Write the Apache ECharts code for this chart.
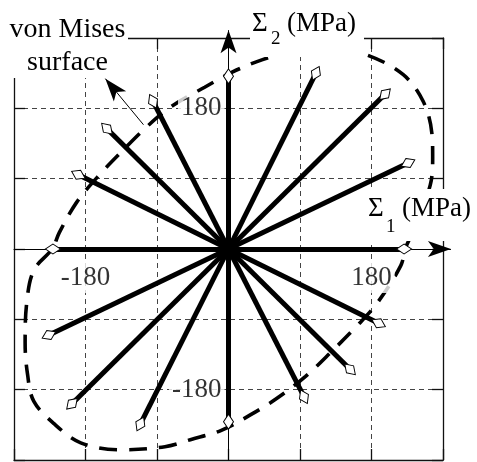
<!DOCTYPE html>
<html><head><meta charset="utf-8">
<script src="https://cdn.jsdelivr.net/npm/echarts@6/dist/echarts.min.js"></script>
<style>html,body{margin:0;padding:0;background:#fff}#c{width:477px;height:462px}</style>
</head><body><div id="c"></div>
<script>
// Loading points (MPa): sigma1 / sigma2 of the 16 radial load paths
const pointX = [221, 226, 197, 110, 0, -95, -153, -189, -221, -226, -197, -111, 0, 95, 153, 189];
const pointY = [0, 110, 198, 225, 221, 189, 154, 95, 0, -110, -198, -224, -221, -189, -154, -95];
// von Mises surface (MPa)
const ellipseX = [222, 254, 257, 256, 245, 220, 175, 130, 85, 42, 4, -30, -71, -100, -135, -165, -191, -213, -222, -245, -254, -256, -253, -245, -218, -186, -136, -80, -48, -9, 28, 61, 97, 130, 163, 188, 217, 222];
const ellipseY = [0, 82, 118, 148, 189, 223, 248, 257, 254, 242, 226, 207, 183, 159, 124, 92, 60, 21, 0, -27, -69, -120, -160, -195, -225, -248, -257, -253, -244, -232, -212, -191, -163, -131, -97, -68, -21, 0];
// axis
const axisMin = -270, axisMax = 270, axisStep = 90;
const xTickLabels = [180, -180];
const yTickLabels = [180, -180];
const arrowEnd = 280;
const pointerFrom = [-107, 159];
const pointerTo = [-155, 218];

const FONT = '"Liberation Serif", "Times New Roman", serif';
const chart = echarts.init(document.getElementById('c'), null, {renderer: 'canvas'});

const radialData = pointX.map((x, i) => ({coords: [[0, 0], [x, pointY[i]]]}));
const diamondData = pointX.map((x, i) => ({
  value: [x, pointY[i]],
  symbolRotate: Math.atan2(pointY[i], x) * 180 / Math.PI
}));
const ellipseData = ellipseX.map((x, i) => [x, ellipseY[i]]);
const arrowData = [
  {coords: [[0, 0], [arrowEnd, 0]]},
  {coords: [[0, 0], [0, arrowEnd]]},
  {coords: [pointerFrom, pointerTo]}
];

const tickText = {
  show: true, fontFamily: FONT, fontSize: 27, color: '#000',
  backgroundColor: '#fff', padding: [2, 3], formatter: p => p.data.text
};
const xLabelData = xTickLabels.map(v => ({value: [v, 0], text: String(v)}));
const yLabelData = yTickLabels.map(v => ({value: [0, v], text: String(v)}));

const frameLine = {show: true, onZero: false, lineStyle: {color: '#111', width: 1.3}};
const frameTick = {show: true, inside: true, length: 11, lineStyle: {color: '#111', width: 1.3}};
const gridSplit = {show: true, lineStyle: {color: '#444', width: 1, type: [5, 4]}};

function frameAxis(pos, split) {
  return {
    type: 'value', position: pos, min: axisMin, max: axisMax, interval: axisStep,
    axisLine: frameLine, axisTick: frameTick, axisLabel: {show: false},
    splitLine: split ? gridSplit : {show: false}, z: 0
  };
}

const option = {
  animation: false,
  backgroundColor: '#fff',
  grid: {left: 14, right: 34, top: 38, bottom: 2, containLabel: false, outerBoundsMode: 'none'},
  xAxis: [
    {
      type: 'value', min: axisMin, max: axisMax, interval: axisStep, z: 1,
      axisLine: {show: true, onZero: true, onZeroAxisIndex: 0, lineStyle: {color: '#000', width: 1}},
      axisTick: {show: false}, splitLine: {show: false}, axisLabel: {show: false}
    },
    frameAxis('bottom', true),
    frameAxis('top', false)
  ],
  yAxis: [
    {
      type: 'value', min: axisMin, max: axisMax, interval: axisStep, z: 1,
      axisLine: {show: true, onZero: true, onZeroAxisIndex: 0, lineStyle: {color: '#000', width: 1}},
      axisTick: {show: false}, splitLine: {show: false}, axisLabel: {show: false}
    },
    frameAxis('left', true),
    frameAxis('right', false)
  ],
  series: [
    {
      type: 'lines', coordinateSystem: 'cartesian2d', xAxisIndex: 0, yAxisIndex: 0,
      data: arrowData, z: 2, silent: true, clip: false,
      symbol: ['none', 'arrow'], symbolSize: [1, [12, 23]],
      lineStyle: {color: '#000', width: 1, opacity: 1, curveness: 0}
    },
    {
      type: 'lines', coordinateSystem: 'cartesian2d', xAxisIndex: 0, yAxisIndex: 0,
      data: radialData, z: 3, silent: true,
      lineStyle: {color: '#000', width: 5, opacity: 1, curveness: 0}
    },
    {
      type: 'line', xAxisIndex: 0, yAxisIndex: 0, data: ellipseData, smooth: 0.35,
      showSymbol: false, symbol: 'none', z: 4, silent: true, clip: false,
      lineStyle: {color: '#000', width: 3.6, type: [18, 12], cap: 'butt'}
    },
    {
      type: 'scatter', xAxisIndex: 0, yAxisIndex: 0, data: diamondData, z: 5, clip: false,
      symbol: 'diamond', symbolSize: [15, 10], silent: true,
      itemStyle: {color: '#fff', borderColor: '#000', borderWidth: 1, opacity: 1}
    },
    {
      type: 'scatter', xAxisIndex: 0, yAxisIndex: 0, data: xLabelData, z: 6, clip: false,
      symbolSize: 0, silent: true,
      label: Object.assign({position: 'bottom', distance: 13}, tickText)
    },
    {
      type: 'scatter', xAxisIndex: 0, yAxisIndex: 0, data: yLabelData, z: 6, clip: false,
      symbolSize: 0, silent: true,
      label: Object.assign({position: 'left', distance: 4}, tickText)
    }
  ],
  graphic: [
    {type: 'rect', z: 100, shape: {x: 0, y: 0, width: 128, height: 78}, style: {fill: '#fff'}},
    {type: 'rect', z: 100, shape: {x: 250, y: 0, width: 114, height: 57}, style: {fill: '#fff'}},
    {type: 'rect', z: 100, shape: {x: 365, y: 189, width: 112, height: 52}, style: {fill: '#fff'}},
    {type: 'text', z: 101, x: 67.5, y: 30, style: {text: 'von Mises', font: '28px ' + FONT, fill: '#000', align: 'center', verticalAlign: 'middle'}},
    {type: 'text', z: 101, x: 67.5, y: 63, style: {text: 'surface', font: '28px ' + FONT, fill: '#000', align: 'center', verticalAlign: 'middle'}},
    {type: 'text', z: 101, x: 252, y: 24, style: {text: 'Σ', font: '27px ' + FONT, fill: '#000', align: 'left', verticalAlign: 'middle'}},
    {type: 'text', z: 101, x: 271, y: 39, style: {text: '2', font: '19px ' + FONT, fill: '#000', align: 'left', verticalAlign: 'middle'}},
    {type: 'text', z: 101, x: 287, y: 24, style: {text: '(MPa)', font: '27px ' + FONT, fill: '#000', align: 'left', verticalAlign: 'middle'}},
    {type: 'text', z: 101, x: 368, y: 209, style: {text: 'Σ', font: '27px ' + FONT, fill: '#000', align: 'left', verticalAlign: 'middle'}},
    {type: 'text', z: 101, x: 386, y: 227, style: {text: '1', font: '19px ' + FONT, fill: '#000', align: 'left', verticalAlign: 'middle'}},
    {type: 'text', z: 101, x: 402, y: 209, style: {text: '(MPa)', font: '27px ' + FONT, fill: '#000', align: 'left', verticalAlign: 'middle'}}
  ]
};
chart.setOption(option);
</script>
</body></html>
